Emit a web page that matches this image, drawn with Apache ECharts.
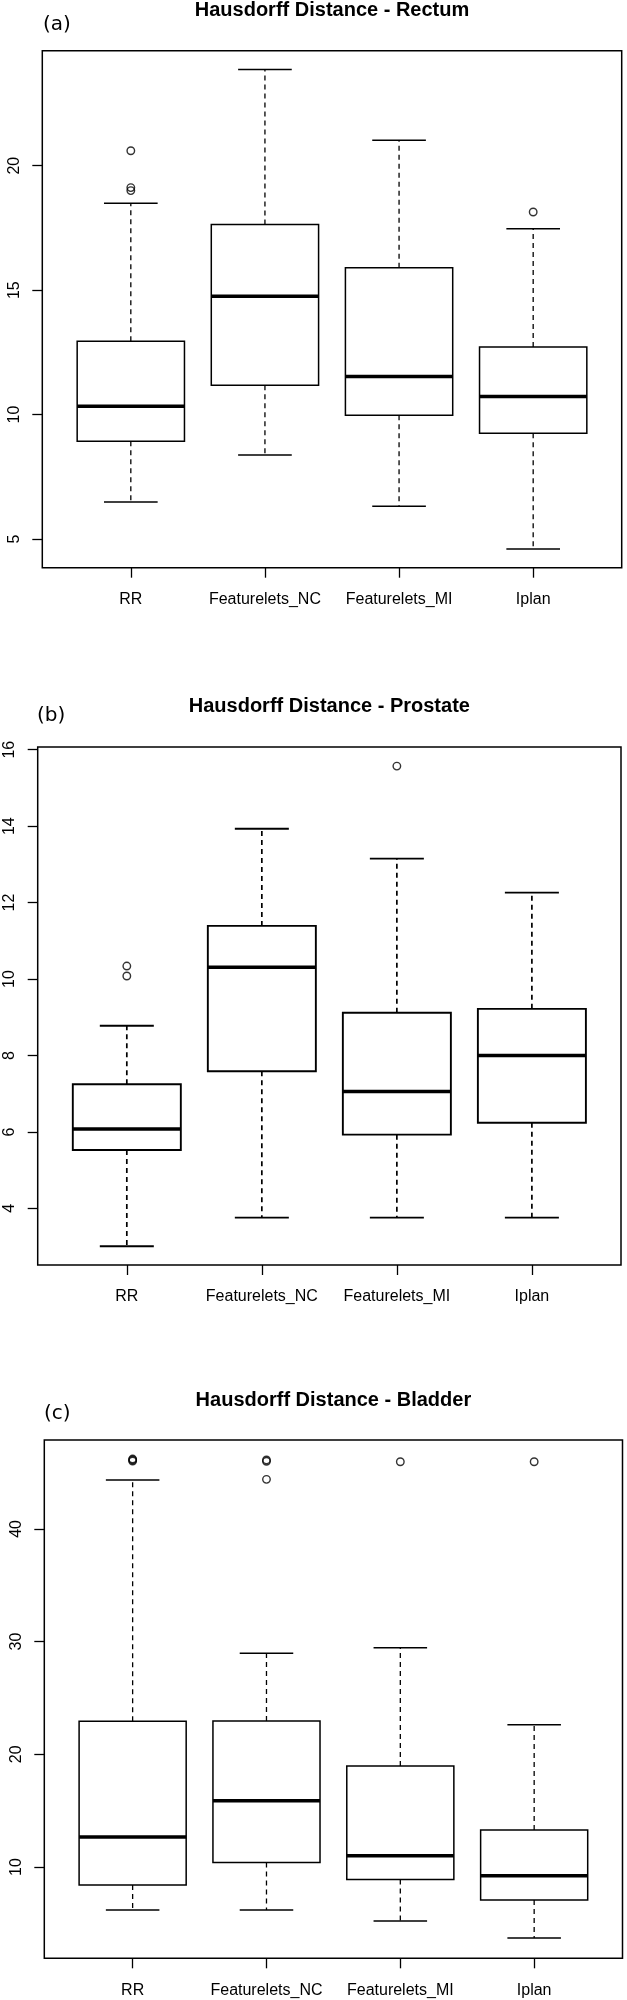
<!DOCTYPE html>
<html>
<head>
<meta charset="utf-8">
<script src="https://cdn.jsdelivr.net/npm/echarts@6/dist/echarts.min.js"></script>
<style>
  html, body { margin: 0; padding: 0; background: #fff; }
  #chart { width: 627px; height: 2000px; }
</style>
</head>
<body>
<div id="chart"></div>
<script>
// groups on the x axis
var categories = ['RR', 'Featurelets_NC', 'Featurelets_MI', 'Iplan'];

// [lower whisker, Q1, median, Q3, upper whisker] per group
var rectumStats = [
  [6.49, 8.93, 10.34, 12.95, 18.49],
  [8.38, 11.18, 14.76, 17.64, 23.86],
  [6.32, 9.97, 11.53, 15.90, 21.02],
  [4.60, 9.25, 10.73, 12.72, 17.47]
];
var rectumOutliers = [[0, 20.6], [0, 19.0], [0, 19.12], [3, 18.14]];
var rectumTicks = [5, 10, 15, 20];

var prostateStats = [
  [3.01, 5.53, 6.08, 7.25, 8.78],
  [3.76, 7.59, 10.31, 11.39, 13.93],
  [3.76, 5.93, 7.06, 9.12, 13.15],
  [3.76, 6.24, 8.00, 9.22, 12.26]
];
var prostateOutliers = [[0, 10.34], [0, 10.08], [2, 15.57]];
var prostateTicks = [4, 6, 8, 10, 12, 14, 16];

var bladderStats = [
  [6.18, 8.40, 12.66, 22.93, 44.34],
  [6.18, 10.41, 15.88, 22.95, 28.96],
  [5.20, 8.90, 11.00, 18.96, 29.46],
  [3.70, 7.07, 9.23, 13.28, 22.63]
];
var bladderOutliers = [[0, 46.02], [0, 46.12], [0, 46.2], [1, 46.0], [1, 46.12], [1, 44.4], [2, 45.96], [3, 45.96]];
var bladderTicks = [10, 20, 30, 40];

var font = 'Liberation Sans, Arial, sans-serif';

// layout of the three panels (frame box in px, y range)
var panels = [
  {title: 'Hausdorff Distance - Rectum', tag: '(a)', stats: rectumStats, out: rectumOutliers, ticks: rectumTicks,
   min: 3.85, max: 24.62, left: 42.3, right: 621.7, top: 50.7, bottom: 567.7, titleY: 0, tagX: 43, tagY: 15, lw: 1.5},
  {title: 'Hausdorff Distance - Prostate', tag: '(b)', stats: prostateStats, out: prostateOutliers, ticks: prostateTicks,
   min: 2.52, max: 16.07, left: 37.7, right: 621, top: 747, bottom: 1265, titleY: 696, tagX: 37, tagY: 706, lw: 1.9},
  {title: 'Hausdorff Distance - Bladder', tag: '(c)', stats: bladderStats, out: bladderOutliers, ticks: bladderTicks,
   min: 1.9, max: 47.89, left: 44.3, right: 622.5, top: 1440, bottom: 1958.3, titleY: 1390, tagX: 44, tagY: 1404, lw: 1.5}
];

function makeRenderer(lw) {
  return function (params, api) {
    var idx = api.value(0);
    var band = api.size([1, 0])[0];
    var x = api.coord([idx, 0])[0];
    var yLow = api.coord([idx, api.value(1)])[1];
    var yQ1 = api.coord([idx, api.value(2)])[1];
    var yMed = api.coord([idx, api.value(3)])[1];
    var yQ3 = api.coord([idx, api.value(4)])[1];
    var yHigh = api.coord([idx, api.value(5)])[1];
    var half = band * 0.4, cap = band * 0.2;
    var dash = {stroke: '#000', lineWidth: lw - 0.2, lineDash: [5, 4]};
    var solid = {stroke: '#000', lineWidth: lw};
    return {
      type: 'group',
      children: [
        {type: 'line', shape: {x1: x, y1: yQ3, x2: x, y2: yHigh}, style: dash},
        {type: 'line', shape: {x1: x, y1: yQ1, x2: x, y2: yLow}, style: dash},
        {type: 'line', shape: {x1: x - cap, y1: yHigh, x2: x + cap, y2: yHigh}, style: solid},
        {type: 'line', shape: {x1: x - cap, y1: yLow, x2: x + cap, y2: yLow}, style: solid},
        {type: 'rect', shape: {x: x - half, y: yQ3, width: half * 2, height: yQ1 - yQ3},
         style: {fill: '#fff', stroke: '#000', lineWidth: lw}},
        {type: 'line', shape: {x1: x - half, y1: yMed, x2: x + half, y2: yMed},
         style: {stroke: '#000', lineWidth: 3.5}}
      ]
    };
  };
}

var grids = [], xAxes = [], yAxes = [], series = [], titles = [];

panels.forEach(function (p, i) {
  var w = p.right - p.left;
  var unit = w / 4.32; // R: xlim 0.5..4.5 widened by 4%
  var h = p.bottom - p.top;
  // frame grid carrying the y axis
  grids.push({left: p.left, top: p.top, width: w, height: h, show: true,
    borderColor: '#000', borderWidth: 1.5, backgroundColor: 'transparent', outerBoundsMode: 'none'});
  // inner grid where the groups sit
  grids.push({left: p.left + 0.16 * unit, top: p.top, width: 4 * unit, height: h, outerBoundsMode: 'none'});

  xAxes.push({gridIndex: 2 * i, type: 'value', show: false});
  xAxes.push({
    gridIndex: 2 * i + 1, type: 'category', data: categories,
    axisLine: {show: false},
    axisTick: {show: true, alignWithLabel: true, length: 10, lineStyle: {color: '#000', width: 1.3}},
    axisLabel: {interval: 0, margin: 24, fontSize: 16, color: '#000', fontFamily: font},
    splitLine: {show: false}
  });

  yAxes.push({
    gridIndex: 2 * i, type: 'value', min: p.min, max: p.max,
    axisLine: {show: false},
    axisTick: {show: true, customValues: p.ticks, length: 10, lineStyle: {color: '#000', width: 1.3}},
    axisLabel: {customValues: p.ticks, rotate: 90, margin: 20, fontSize: 16, color: '#000', fontFamily: font},
    splitLine: {show: false}
  });
  yAxes.push({gridIndex: 2 * i + 1, type: 'value', min: p.min, max: p.max, show: false});

  series.push({
    type: 'custom', xAxisIndex: 2 * i + 1, yAxisIndex: 2 * i + 1,
    renderItem: makeRenderer(p.lw),
    encode: {x: 0, y: [1, 2, 3, 4, 5]},
    data: p.stats.map(function (s, k) { return [k].concat(s); }),
    animation: false
  });
  series.push({
    type: 'scatter', xAxisIndex: 2 * i + 1, yAxisIndex: 2 * i + 1,
    symbol: 'circle', symbolSize: 7.5,
    itemStyle: {color: 'rgba(0,0,0,0)', borderColor: '#000', borderWidth: 1.4},
    data: p.out,
    animation: false
  });

  titles.push({text: p.title, left: (p.left + p.right) / 2, top: p.titleY, textAlign: 'center', padding: 0,
    textStyle: {fontSize: 20, fontWeight: 'bold', fontFamily: font, color: '#000'}});
  titles.push({text: p.tag, left: p.tagX, top: p.tagY, padding: 0,
    textStyle: {fontSize: 20, fontWeight: 'normal', fontFamily: 'DejaVu Sans', color: '#000'}});
});

var chart = echarts.init(document.getElementById('chart'));
chart.setOption({
  backgroundColor: '#fff',
  animation: false,
  title: titles,
  grid: grids,
  xAxis: xAxes,
  yAxis: yAxes,
  series: series
});
</script>
</body>
</html>
